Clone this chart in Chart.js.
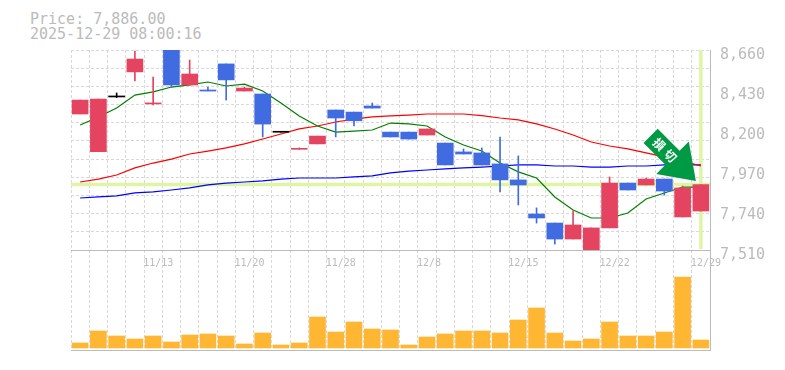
<!DOCTYPE html>
<html lang="ja">
<head>
<meta charset="UTF-8">
<title>Price chart</title>
<script src="https://cdn.jsdelivr.net/npm/chart.js"></script>
<style>
html, body { margin: 0; padding: 0; background: #fff; }
body { position: relative; width: 785px; height: 370px; overflow: hidden; }
canvas { position: absolute; left: 0; }
#priceChart { top: 0; }
#volumeChart { top: 250px; }
.info {
	position: absolute;
	left: 30px;
	font: 15px "DejaVu Sans Mono", monospace;
	color: #bbb;
	line-height: 16px;
	white-space: pre;
}
</style>
</head>
<body>
	<div class="info" style="top:11px">Price: 7,886.00</div>
	<div class="info" style="top:26px">2025-12-29 08:00:16</div>
	<canvas id="volumeChart" width="785" height="120"></canvas>
	<canvas id="priceChart" width="785" height="272"></canvas>
	<script>
	const dates = ['11/7','11/10','11/11','11/12','11/13','11/14','11/17','11/18','11/19','11/20','11/21','11/25','11/26','11/27','11/28','12/1','12/2','12/3','12/4','12/8','12/9','12/10','12/11','12/12','12/15','12/16','12/17','12/18','12/19','12/22','12/23','12/24','12/25','12/26','12/29'];
	const tickDates = ['11/13','11/20','11/28','12/8','12/15','12/22','12/29'];
	const opens = [8292,8075,8390,8534,8350,8660,8459,8430,8580,8424,8407,8187,8089,8120,8315,8303,8338,8188,8188,8171,8125,8074,8068,8005,7913,7717,7665,7573,7506,7637,7895,7884,7918,7700,7734];
	const closes = [8372,8378,8390,8608,8355,8459,8522,8424,8488,8441,8234,8187,8092,8165,8269,8253,8326,8160,8148,8206,7999,8062,7999,7913,7884,7694,7573,7654,7637,7895,7855,7918,7849,7867,7886];
	const highs = [8372,8378,8413,8654,8505,8660,8602,8447,8580,8447,8407,8187,8097,8165,8315,8303,8355,8188,8188,8206,8125,8091,8097,8160,8051,7752,7665,7734,7637,7930,7895,7924,7918,7878,7886];
	const lows = [8292,8075,8387,8482,8344,8447,8459,8424,8372,8424,8160,8187,8089,8120,8160,8223,8326,8160,8148,8171,7999,8062,7999,7844,7769,7665,7544,7573,7506,7637,7855,7884,7826,7700,7734];
	const maShort = [8229,8275,8326,8401,8419,8447,8459,8476,8453,8464,8424,8355,8281,8223,8188,8194,8200,8240,8235,8223,8160,8114,8079,8010,7959,7924,7815,7740,7694,7694,7723,7803,7838,7872,7872];
	const maMid = [7901,7918,7941,7982,8010,8033,8062,8079,8097,8120,8148,8177,8206,8223,8246,8263,8275,8281,8286,8292,8292,8292,8283,8269,8258,8235,8206,8171,8131,8108,8091,8068,8045,8022,7993];
	const maLong = [7809,7815,7821,7838,7844,7855,7867,7884,7895,7901,7907,7918,7924,7924,7924,7930,7936,7953,7964,7970,7976,7982,7987,7993,7999,7999,7993,7993,7987,7987,7993,7993,7999,7999,7999];
	const volumes = [5,17,12,9,12,6,13,14,12,4,15,3,5,31,16,26,19,18,3,11,14,17,17,15,28,40,15,7,9,26,12,12,16,71,8];
	const lastPrice = 7886;
	const priceTicks = [7510,7740,7970,8200,8430,8660];

	const RED = '#e44460';
	const BLUE = '#416ce1';
	const GRID = '#d8d8d8';
	const AXIS = '#bbbbbb';
	const MONO = '"DejaVu Sans Mono", monospace';
	const candleColor = dates.map((d, i) => closes[i] === opens[i] ? '#000000' : closes[i] > opens[i] ? RED : BLUE);

	// the pale last price cross sits under the candles
	const crossPlugin = {
		id: 'cross',
		beforeDatasetsDraw(chart) {
			const { ctx, chartArea, scales } = chart;
			const y = scales.y.getPixelForValue(lastPrice);
			const x = scales.x.getPixelForValue(dates.length - 1);
			ctx.save();
			ctx.strokeStyle = '#e0f5a3';
			ctx.lineWidth = 3.5;
			ctx.beginPath();
			ctx.moveTo(chartArea.left, y);
			ctx.lineTo(chartArea.right, y);
			ctx.moveTo(x, chartArea.top);
			ctx.lineTo(x, chartArea.bottom - 1);
			ctx.stroke();
			ctx.restore();
		}
	};

	// green signal arrow, anchored on the last candle
	const arrowPlugin = {
		id: 'arrow',
		afterDatasetsDraw(chart) {
			const { ctx, scales } = chart;
			const tipX = scales.x.getPixelForValue(dates.length - 1) - 5;
			const tipY = scales.y.getPixelForValue(lastPrice) - 3.5;
			ctx.save();
			ctx.translate(tipX, tipY);
			ctx.rotate(Math.PI / 4);
			ctx.fillStyle = '#009944';
			ctx.beginPath();
			ctx.moveTo(0, 0);
			ctx.lineTo(-33, 23);
			ctx.lineTo(-33, 10);
			ctx.lineTo(-64, 10);
			ctx.lineTo(-64, -10);
			ctx.lineTo(-33, -10);
			ctx.lineTo(-33, -23);
			ctx.closePath();
			ctx.fill();
			ctx.fillStyle = '#fff';
			ctx.font = 'bold 12px "Noto Sans CJK JP"';
			ctx.letterSpacing = '4px';
			ctx.textAlign = 'center';
			ctx.textBaseline = 'middle';
			ctx.fillText('損切', -42, 0);
			ctx.restore();
		}
	};

	const lineSet = (data, color) => ({
		type: 'line',
		data: data,
		borderColor: color,
		borderWidth: 1.2,
		pointRadius: 0,
		tension: 0,
		order: 3
	});

	new Chart(document.getElementById('priceChart'), {
		data: {
			labels: dates,
			datasets: [
				lineSet(maShort, '#008000'),
				lineSet(maMid, '#ff0000'),
				lineSet(maLong, '#0000ff'),
				{
					type: 'bar',
					data: opens.map((o, i) => [o, closes[i]]),
					backgroundColor: candleColor,
					barThickness: 16,
					minBarLength: 1,
					grouped: false,
					order: 1
				},
				{
					type: 'bar',
					data: lows.map((l, i) => [l, highs[i]]),
					backgroundColor: candleColor,
					barThickness: 1,
					grouped: false,
					order: 2
				}
			]
		},
		options: {
			responsive: false,
			animation: false,
			layout: { padding: { left: 71, top: 50, right: 0, bottom: 0 } },
			plugins: { legend: { display: false }, tooltip: { enabled: false } },
			scales: {
				x: {
					offset: true,
					border: { color: AXIS, width: 1, dash: [3, 2] },
					grid: { color: GRID, lineWidth: 1, drawTicks: false },
					ticks: {
						autoSkip: false,
						maxRotation: 0,
						align: 'start',
						labelOffset: -10,
						padding: 7,
						color: AXIS,
						font: { family: MONO, size: 10 },
						callback: (v, i) => tickDates.includes(dates[i]) ? dates[i] : ''
					},
					afterFit: s => { s.height = 22; }
				},
				y: {
					position: 'right',
					min: 7510,
					max: 8660,
					afterBuildTicks: s => { s.ticks = priceTicks.map(v => ({ value: v })); },
					border: { color: AXIS, width: 1 },
					grid: { display: false },
					ticks: {
						padding: 2,
						labelOffset: 5,
						color: AXIS,
						font: { family: MONO, size: 15 },
						callback: v => v.toLocaleString('en-US')
					},
					afterFit: s => { s.width = 75; }
				},
				yGrid: {
					position: 'left',
					min: 7510,
					max: 8660,
					border: { display: false, dash: [3, 2] },
					grid: { color: GRID, drawTicks: false },
					ticks: { display: false, count: 12 },
					afterFit: s => { s.width = 0; }
				}
			}
		},
		plugins: [crossPlugin, arrowPlugin]
	});

	new Chart(document.getElementById('volumeChart'), {
		type: 'bar',
		data: {
			labels: dates,
			datasets: [{ data: volumes, backgroundColor: '#ffb733', barThickness: 16 }]
		},
		options: {
			responsive: false,
			animation: false,
			layout: { padding: { left: 71, top: 0, right: 0, bottom: 20 } },
			plugins: { legend: { display: false }, tooltip: { enabled: false } },
			scales: {
				x: {
					border: { color: AXIS, width: 1, dash: [3, 2] },
					grid: { color: GRID, drawTicks: false },
					ticks: { display: false }
				},
				y: {
					position: 'right',
					min: -2,
					max: 98,
					border: { color: AXIS, width: 1 },
					grid: { display: false },
					ticks: { display: false },
					afterFit: s => { s.width = 75; }
				}
			}
		}
	});
	</script>
</body>
</html>
